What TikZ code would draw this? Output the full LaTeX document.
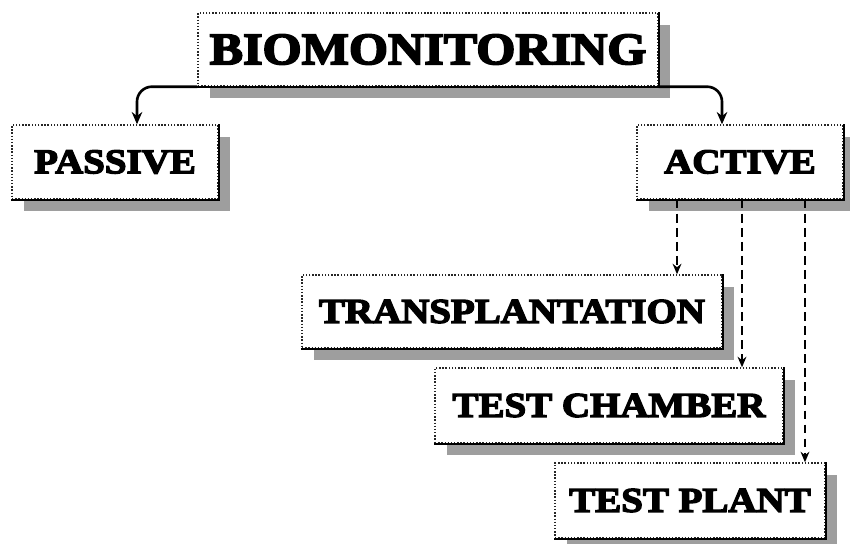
\documentclass[tikz,border=0pt]{standalone}
\usepackage{fontspec}
\newfontfamily\posterfont{Liberation Serif}[FakeStretch=1.12, BoldFeatures={FakeBold=4, FakeStretch=1.12}]
\usetikzlibrary{shadows,arrows.meta,positioning}

\tikzset{
  box/.style={rectangle, draw=black!85, line width=0.8pt, densely dotted, fill=white, inner sep=0pt,
    minimum height=1.48cm,
    drop shadow={shadow xshift=0.24cm, shadow yshift=-0.24cm, fill=black!38, opacity=1},
    font=\posterfont\bfseries\fontsize{19.8}{22}\selectfont},
  branch/.style={-{Stealth[length=7pt,width=6pt]}, line width=1.5pt, rounded corners=0.3cm},
  sub/.style={-{Stealth[length=6pt,width=5pt]}, line width=1.5pt, dash pattern=on 5pt off 3pt},
}

\begin{document}
\begin{tikzpicture}[x=0.02cm, y=-0.02cm]
    \useasboundingbox (0,0) rectangle (850,544);

    % Main nodes
    \node (bio) [box, minimum width=9.2cm, minimum height=1.46cm,
        font=\posterfont\bfseries\fontsize{25.5}{28}\selectfont] at (428,49.5) {BIOMONITORING};
    \node (passive) [box, minimum width=4.12cm] at (115,162) {PASSIVE};
    \node (active) [box, minimum width=4.12cm] at (740,162) {ACTIVE};

    % Active children
    \node (trans) [box, minimum width=8.4cm, minimum height=1.46cm] at (512,311.5) {TRANSPLANTATION};
    \node (chamber) [box, minimum width=6.96cm, minimum height=1.5cm] at (609,405.5) {TEST CHAMBER};
    \node (plant) [box, minimum width=5.4cm, minimum height=1.5cm] at (690,500.5) {TEST PLANT};

    % Solid bottom and right edges
    \foreach \n in {bio,passive,active,trans,chamber,plant}
        \draw[line width=1.1pt] (\n.south west) -- (\n.south east) -- (\n.north east);

    % Connections
    \draw[branch] (bio.south west) -| ([xshift=0.44cm]passive.north);
    \draw[branch] (bio.south east) -| ([xshift=-0.36cm]active.north);

    \coordinate (d1) at ([xshift=-1.26cm]active.south);
    \coordinate (d2) at ([xshift=0.04cm]active.south);
    \coordinate (d3) at ([xshift=1.3cm]active.south);
    \draw[sub] (d1) -- (d1 |- trans.north);
    \draw[sub] (d2) -- (d2 |- chamber.north);
    \draw[sub] (d3) -- (d3 |- plant.north);
\end{tikzpicture}
\end{document}
